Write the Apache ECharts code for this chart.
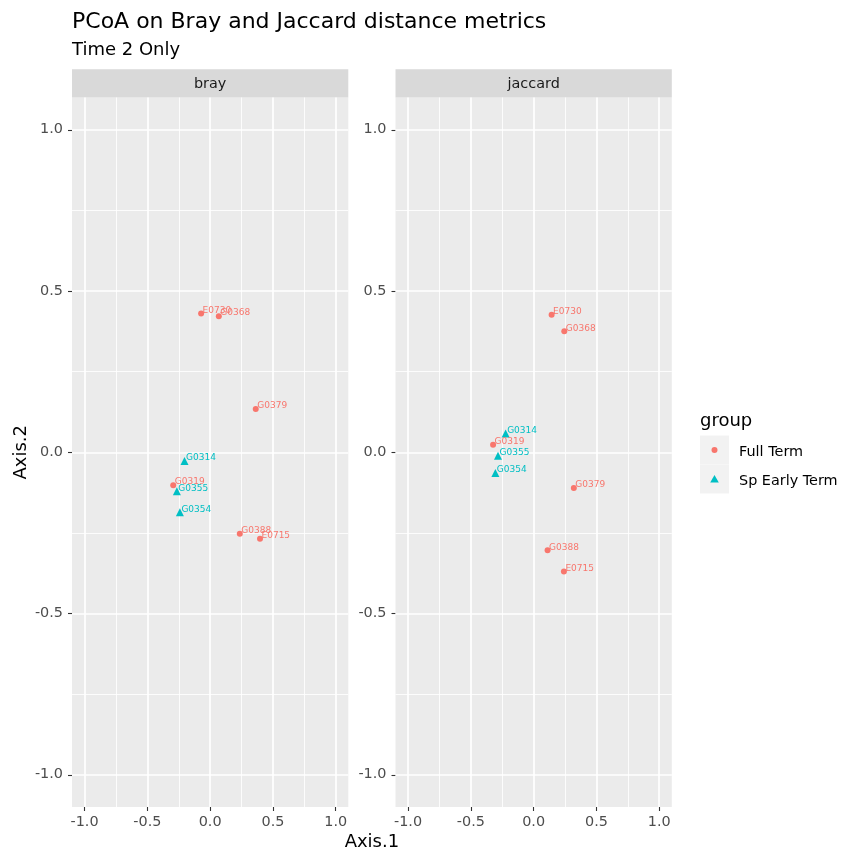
<!DOCTYPE html>
<html>
<head>
<meta charset="utf-8">
<script src="https://cdn.jsdelivr.net/npm/echarts@6/dist/echarts.min.js"></script>
<style>html,body{margin:0;padding:0;background:#fff;}#chart{width:842px;height:849px;}</style>
</head>
<body>
<div id="chart"></div>
<script>
// ---- data ----
const sampleIds   = ['E0730','G0368','G0379','G0314','G0319','G0355','G0354','G0388','E0715'];
const sampleGroup = ['Full Term','Full Term','Full Term','Sp Early Term','Full Term','Sp Early Term','Sp Early Term','Full Term','Full Term'];
const brayAxis1    = [-0.072, 0.069, 0.363, -0.204, -0.294, -0.265, -0.241, 0.236, 0.397];
const brayAxis2    = [ 0.430, 0.422, 0.134, -0.027, -0.102, -0.121, -0.186, -0.253, -0.268];
const jaccardAxis1 = [ 0.143, 0.244, 0.320, -0.223, -0.323, -0.284, -0.305, 0.111, 0.241];
const jaccardAxis2 = [ 0.426, 0.375, -0.111, 0.058, 0.023, -0.011, -0.064, -0.304, -0.370];
const groups = ['Full Term', 'Sp Early Term'];
const panels = ['bray', 'jaccard'];
const tickValues = [-1.0, -0.5, 0.0, 0.5, 1.0];
const minorValues = [-0.75, -0.25, 0.25, 0.75];
const axisMin = -1.1, axisMax = 1.1;

// ---- styles ----
const FONT = 'DejaVu Sans';
const groupColor = {'Full Term': '#F8766D', 'Sp Early Term': '#00BFC4'};
const groupSymbol = {'Full Term': 'circle', 'Sp Early Term': 'triangle'};
const groupSize = {'Full Term': 6, 'Sp Early Term': 8};

const gridTop = 97.5, gridH = 709.5, gridW = 276.3;
const gridLefts = [72, 395.5];

const chart = echarts.init(document.getElementById('chart'), null, {renderer: 'canvas'});

const grids = gridLefts.map(l => ({
  left: l, top: gridTop, width: gridW, height: gridH,
  show: true, backgroundColor: '#EBEBEB', borderWidth: 0, containLabel: false
}));

function valueAxis(dim, gi) {
  return {
    type: 'value', gridIndex: gi, min: axisMin, max: axisMax,
    position: dim === 'x' ? 'bottom' : 'left',
    axisLine: {show: false, onZero: false},
    axisTick: {show: true, length: 4, lineStyle: {color: '#333333', width: 1.1}, customValues: tickValues},
    axisLabel: {
      show: true, customValues: tickValues, margin: dim === 'x' ? 8 : 9,
      color: '#4D4D4D', fontFamily: FONT, fontSize: 14.4,
      formatter: v => v.toFixed(1)
    },
    splitLine: {show: false},
    minorSplitLine: {show: false}
  };
}

const xAxes = [valueAxis('x', 0), valueAxis('x', 1)];
const yAxes = [valueAxis('y', 0), valueAxis('y', 1)];
yAxes[0].name = 'Axis.2';
yAxes[0].nameLocation = 'middle';
yAxes[0].nameRotate = 90;
yAxes[0].nameGap = 42;
yAxes[0].nameTextStyle = {fontFamily: FONT, fontSize: 18, color: '#000'};

const series = [];
panels.forEach((p, gi) => {
  const lines = [];
  tickValues.forEach(v => {
    lines.push({xAxis: v, lineStyle: {color: '#FFFFFF', width: 1.7, type: 'solid'}});
    lines.push({yAxis: v, lineStyle: {color: '#FFFFFF', width: 1.7, type: 'solid'}});
  });
  minorValues.forEach(v => {
    lines.push({xAxis: v, lineStyle: {color: '#FFFFFF', width: 0.85, type: 'solid'}});
    lines.push({yAxis: v, lineStyle: {color: '#FFFFFF', width: 0.85, type: 'solid'}});
  });
  series.push({
    type: 'scatter', name: 'grid-' + p, xAxisIndex: gi, yAxisIndex: gi, data: [], z: 1,
    silent: true,
    markLine: {z: 1, silent: true, symbol: ['none', 'none'], label: {show: false}, animation: false, data: lines}
  });
  const xs = gi === 0 ? brayAxis1 : jaccardAxis1;
  const ys = gi === 0 ? brayAxis2 : jaccardAxis2;
  groups.forEach(g => {
    const data = [];
    sampleIds.forEach((id, i) => {
      if (sampleGroup[i] === g) data.push({value: [xs[i], ys[i]], name: id});
    });
    series.push({
      type: 'scatter', name: g, xAxisIndex: gi, yAxisIndex: gi, z: 6,
      symbol: groupSymbol[g], symbolSize: groupSize[g],
      itemStyle: {color: groupColor[g], opacity: 1},
      label: {
        show: true, position: 'right', distance: g === 'Full Term' ? -1.5 : -2.5, offset: [0, -3],
        formatter: p => p.name, color: groupColor[g], fontFamily: FONT, fontSize: 9
      },
      data: data
    });
  });
});

// strips, titles, legend as graphic
const graphic = [];
graphic.push({type: 'text', left: 72, top: 11.5, style: {text: 'PCoA on Bray and Jaccard distance metrics', font: '22px "DejaVu Sans"', fill: '#000'}});
graphic.push({type: 'text', left: 72, top: 41.5, style: {text: 'Time 2 Only', font: '18px "DejaVu Sans"', fill: '#000'}});
panels.forEach((p, gi) => {
  graphic.push({type: 'rect', shape: {x: gridLefts[gi], y: 69.3, width: gridW, height: gridTop - 69.3}, style: {fill: '#D9D9D9'}, silent: true});
  graphic.push({type: 'text', x: gridLefts[gi] + gridW / 2, y: 84, style: {text: p, font: '14.4px "DejaVu Sans"', fill: '#1A1A1A', align: 'center', verticalAlign: 'middle'}});
});
graphic.push({type: 'text', x: gridLefts[0] + (gridLefts[1] + gridW - gridLefts[0]) / 2, y: 842.5, style: {text: 'Axis.1', font: '18px "DejaVu Sans"', fill: '#000', align: 'center', verticalAlign: 'middle'}});
// legend
graphic.push({type: 'text', x: 700, y: 421, style: {text: 'group', font: '18px "DejaVu Sans"', fill: '#000', align: 'left', verticalAlign: 'middle'}});
groups.forEach((g, k) => {
  const y0 = 435.5 + k * 29;
  graphic.push({type: 'rect', shape: {x: 700, y: y0, width: 29, height: 29}, style: {fill: '#F2F2F2'}, silent: true});
  const cx = 714.5, cy = y0 + 14.5;
  if (groupSymbol[g] === 'circle') {
    graphic.push({type: 'circle', shape: {cx: cx, cy: cy, r: 3}, style: {fill: groupColor[g]}});
  } else {
    graphic.push({type: 'polygon', shape: {points: [[cx, cy - 4], [cx + 4.3, cy + 3.5], [cx - 4.3, cy + 3.5]]}, style: {fill: groupColor[g]}});
  }
  graphic.push({type: 'text', x: 739, y: cy + 2, style: {text: g, font: '14.4px "DejaVu Sans"', fill: '#000', align: 'left', verticalAlign: 'middle'}});
});

chart.setOption({
  animation: false,
  backgroundColor: '#FFFFFF',
  textStyle: {fontFamily: FONT},
  grid: grids,
  xAxis: xAxes,
  yAxis: yAxes,
  series: series,
  graphic: graphic
});
</script>
</body>
</html>
